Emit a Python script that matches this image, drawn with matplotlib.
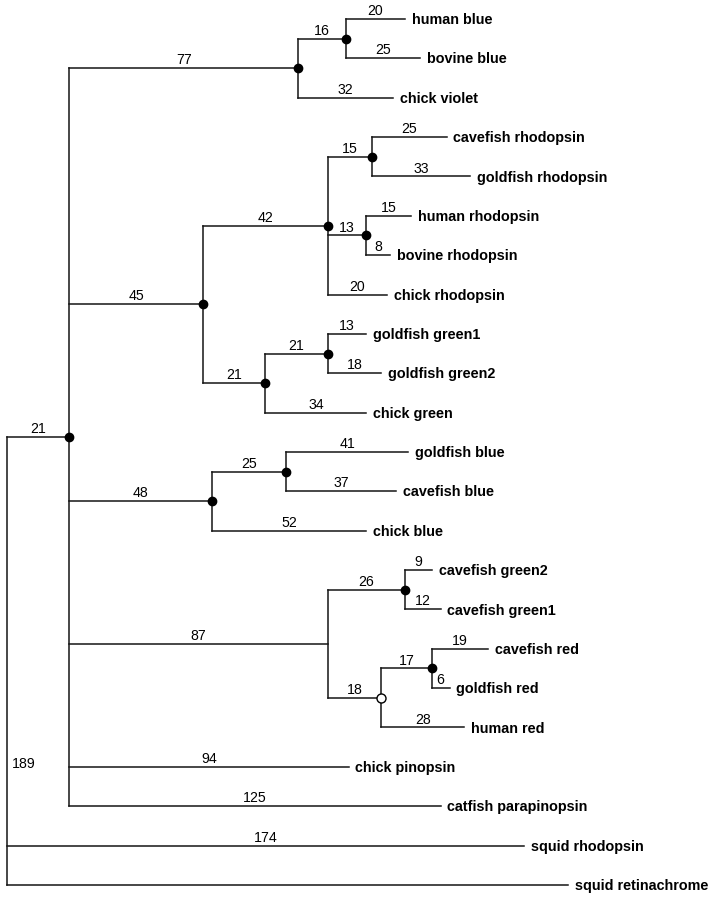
import matplotlib.pyplot as plt

plt.rcParams['font.family'] = ['Liberation Sans', 'DejaVu Sans']

# tree, listed depth first: node, parent, branch length, node marker
node = ["root", "A", "B", "C", "human blue", "bovine blue", "chick violet",
        "D", "E", "F", "cavefish rhodopsin", "goldfish rhodopsin",
        "G", "human rhodopsin", "bovine rhodopsin", "chick rhodopsin",
        "H", "I", "goldfish green1", "goldfish green2", "chick green",
        "J", "K", "goldfish blue", "cavefish blue", "chick blue",
        "L", "M", "cavefish green2", "cavefish green1",
        "N", "O", "cavefish red", "goldfish red", "human red",
        "chick pinopsin", "catfish parapinopsin",
        "squid rhodopsin", "squid retinachrome"]
parent = [None, "root", "A", "B", "C", "C", "B",
          "A", "D", "E", "F", "F",
          "E", "G", "G", "E",
          "D", "H", "I", "I", "H",
          "A", "J", "K", "K", "J",
          "A", "L", "M", "M",
          "L", "N", "O", "O", "N",
          "A", "A",
          "root", "root"]
length = [0, 21, 77, 16, 20, 25, 32,
          45, 42, 15, 25, 33,
          13, 15, 8, 20,
          21, 21, 13, 18, 34,
          48, 25, 41, 37, 52,
          87, 26, 9, 12,
          18, 17, 19, 6, 28,
          94, 125,
          174, 189]
marker = ["", "f", "f", "f", "", "", "",
          "f", "f", "f", "", "",
          "f", "", "", "",
          "f", "f", "", "", "",
          "f", "f", "", "", "",
          "", "f", "", "",
          "o", "f", "", "", "",
          "", "",
          "", ""]

children = {n: [] for n in node}
for n, p in zip(node, parent):
    if p is not None:
        children[p].append(n)

x = {}
for n, p, L in zip(node, parent, length):
    x[n] = 0 if p is None else x[p] + L

leaves = [n for n in node if not children[n]]
y = {n: i for i, n in enumerate(leaves)}
for n in reversed(node):
    if children[n]:
        y[n] = (y[children[n][0]] + y[children[n][-1]]) / 2

fig = plt.figure(figsize=(7.16, 9), dpi=100)
ax = fig.add_axes([0, 0, 1, 1])
ax.axis('off')
ax.set_xlim(-7 / 2.97, (716 - 7) / 2.97)
ax.set_ylim((900 - 19) / 39.36, -19 / 39.36)

lc = '#151515'
lw = 1.1
for n, p, L in zip(node, parent, length):
    if children[n]:
        ax.plot([x[n], x[n]], [y[children[n][0]], y[children[n][-1]]],
                color=lc, lw=lw, solid_capstyle='projecting')
    if p is None:
        continue
    ax.plot([x[p], x[n]], [y[n], y[n]], color=lc, lw=lw,
            solid_capstyle='projecting')
    if n == "squid retinachrome":
        ax.text(1.5, 18.93, str(L), fontsize=10.2, ha='left', va='center')
    else:
        ax.text((x[p] + x[n]) / 2, y[n] - 0.1, str(L), fontsize=10.2,
                ha='center', va='baseline')
    if not children[n]:
        ax.text(x[n] + 2.3, y[n] + 0.13, n, fontsize=10.4,
                fontweight='bold', ha='left', va='baseline')

for n, m in zip(node, marker):
    if m == "f":
        ax.plot(x[n], y[n], 'o', color='black', ms=6, zorder=5)
    elif m == "o":
        ax.plot(x[n], y[n], 'o', mfc='white', mec='black', mew=1,
                ms=6.5, zorder=5)

plt.savefig("out.png", dpi=100)
plt.close()
